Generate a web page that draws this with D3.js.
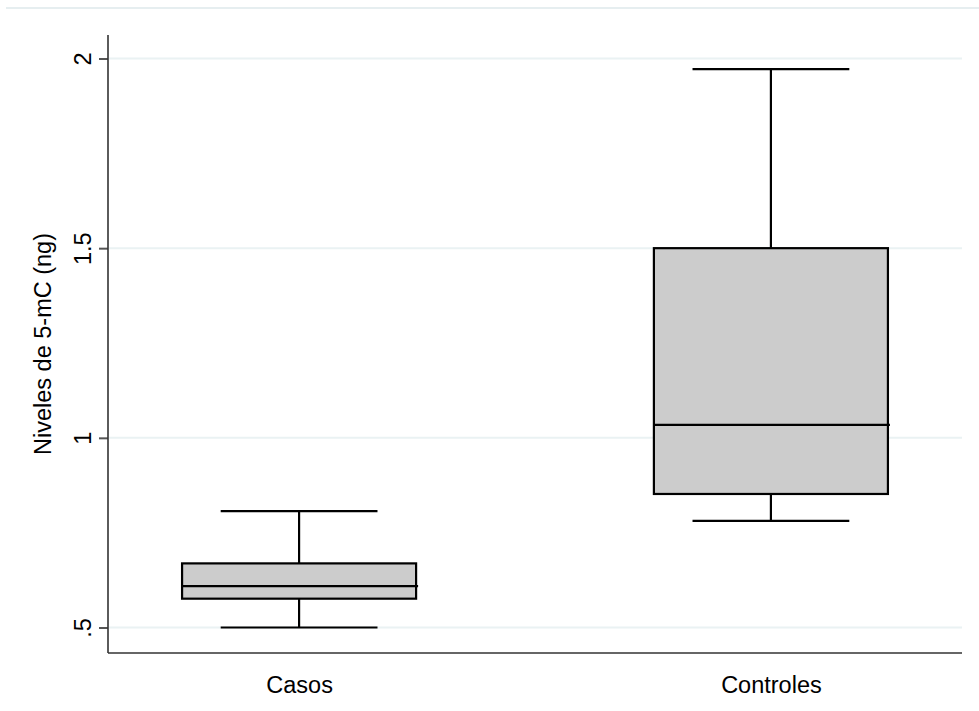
<!DOCTYPE html>
<html>
<head>
<meta charset="utf-8">
<script src="https://cdn.jsdelivr.net/npm/d3@7"></script>
<style>
  html, body { margin: 0; padding: 0; background: #ffffff; }
  svg { display: block; font-family: "Liberation Sans", Arial, sans-serif; }
</style>
</head>
<body>
<svg id="chart" width="979" height="711"></svg>
<script>
// Groups and their box-plot summaries (5-mC levels, ng)
const groups = ["Casos", "Controles"];
const lowerWhisker = [0.500, 0.781];
const q1 = [0.576, 0.852];
const median = [0.609, 1.034];
const q3 = [0.669, 1.500];
const upperWhisker = [0.807, 1.972];

const yTicks = [0.5, 1, 1.5, 2];
const yTickLabels = [".5", "1", "1.5", "2"];
const yTitle = "Niveles de 5-mC (ng)";

const svg = d3.select("#chart");

const plot = { left: 108, right: 962, top: 35, bottom: 653 };
const fontSize = 23.5;

const x = d3.scalePoint()
  .domain(groups)
  .range([plot.left, plot.right])
  .padding(0.405);

const y = d3.scaleLinear()
  .domain([0.5, 2])
  .range([627.5, 58.5]);

const boxW = x.step() * 0.496;
const capW = boxW * 0.67;

// outer frame line at top of the graph region
svg.append("line")
  .attr("x1", 6).attr("x2", 979)
  .attr("y1", 8).attr("y2", 8)
  .attr("stroke", "#e6eef0").attr("stroke-width", 2);

// horizontal grid lines
svg.append("g")
  .selectAll("line")
  .data(yTicks)
  .join("line")
  .attr("x1", plot.left + 1).attr("x2", plot.right)
  .attr("y1", d => y(d)).attr("y2", d => y(d))
  .attr("stroke", "#eaf2f3").attr("stroke-width", 2);

// y axis
const yAxis = d3.axisLeft(y)
  .tickValues(yTicks)
  .tickFormat((d, i) => yTickLabels[i])
  .tickSize(9)
  .tickPadding(6);

const gy = svg.append("g")
  .attr("transform", `translate(${plot.left},0)`)
  .call(yAxis);
gy.select(".domain").remove();
gy.selectAll(".tick line").attr("stroke", "#555").attr("stroke-width", 2);
gy.selectAll(".tick text")
  .attr("x", null).attr("dy", null)
  .attr("text-anchor", "middle")
  .attr("transform", "translate(-17,0) rotate(-90)")
  .attr("font-size", fontSize)
  .attr("fill", "#000")
  .attr("font-family", "'Liberation Sans', Arial, sans-serif");

svg.append("line")
  .attr("x1", plot.left).attr("x2", plot.left)
  .attr("y1", plot.top).attr("y2", plot.bottom)
  .attr("stroke", "#333").attr("stroke-width", 1.6);

// x axis
const gx = svg.append("g")
  .attr("transform", `translate(0,${plot.bottom})`)
  .call(d3.axisBottom(x).tickSize(0).tickPadding(23));
gx.select(".domain").remove();
gx.selectAll(".tick text")
  .attr("font-size", fontSize)
  .attr("fill", "#000")
  .attr("font-family", "'Liberation Sans', Arial, sans-serif");

svg.append("line")
  .attr("x1", plot.left).attr("x2", plot.right)
  .attr("y1", plot.bottom).attr("y2", plot.bottom)
  .attr("stroke", "#333").attr("stroke-width", 1.6);

// y axis title
svg.append("text")
  .attr("transform", `translate(51,${344}) rotate(-90)`)
  .attr("text-anchor", "middle")
  .attr("font-size", fontSize)
  .attr("fill", "#000")
  .text(yTitle);

// boxes
const stats = groups.map((g, i) => ({
  g, lo: lowerWhisker[i], q1: q1[i], med: median[i], q3: q3[i], hi: upperWhisker[i]
}));

const boxes = svg.append("g")
  .selectAll("g")
  .data(stats)
  .join("g")
  .attr("transform", d => `translate(${x(d.g)},0)`);

const stroke = "#000";
const sw = 2.2;

// whisker stems
boxes.append("line")
  .attr("x1", 0).attr("x2", 0)
  .attr("y1", d => y(d.hi)).attr("y2", d => y(d.q3))
  .attr("stroke", stroke).attr("stroke-width", sw);
boxes.append("line")
  .attr("x1", 0).attr("x2", 0)
  .attr("y1", d => y(d.q1)).attr("y2", d => y(d.lo))
  .attr("stroke", stroke).attr("stroke-width", sw);

// whisker caps
boxes.append("line")
  .attr("x1", -capW / 2).attr("x2", capW / 2)
  .attr("y1", d => y(d.hi)).attr("y2", d => y(d.hi))
  .attr("stroke", stroke).attr("stroke-width", sw);
boxes.append("line")
  .attr("x1", -capW / 2).attr("x2", capW / 2)
  .attr("y1", d => y(d.lo)).attr("y2", d => y(d.lo))
  .attr("stroke", stroke).attr("stroke-width", sw);

// interquartile box
boxes.append("rect")
  .attr("x", -boxW / 2)
  .attr("width", boxW)
  .attr("y", d => y(d.q3))
  .attr("height", d => y(d.q1) - y(d.q3))
  .attr("fill", "#cccccc")
  .attr("stroke", stroke).attr("stroke-width", sw);

// median
boxes.append("line")
  .attr("x1", -boxW / 2).attr("x2", boxW / 2 + 2)
  .attr("y1", d => y(d.med)).attr("y2", d => y(d.med))
  .attr("stroke", stroke).attr("stroke-width", sw);
</script>
</body>
</html>
